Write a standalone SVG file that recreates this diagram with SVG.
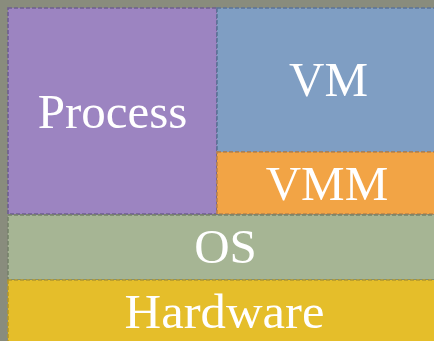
<svg xmlns="http://www.w3.org/2000/svg" width="434" height="341" viewBox="0 0 434 341">
<style>
.box{stroke-width:1.6;stroke-dasharray:4 2}
.t{font-family:"Liberation Serif","DejaVu Serif",serif;font-size:49px;fill:#ffffff;text-anchor:middle}
</style>
<rect x="0" y="0" width="434" height="341" fill="#898c7d"/>
<g id="process"><rect class="box" x="8" y="8" width="209" height="206" fill="#9c84c1" stroke="#6d5e8f"/><text class="t" x="112.5" y="128">Process</text></g>
<g id="vm"><rect class="box" x="217" y="8" width="224" height="144" fill="#7f9ec3" stroke="#5b7398"/><text class="t" x="328.5" y="96">VM</text></g>
<g id="vmm"><rect class="box" x="217" y="152" width="224" height="62" fill="#f2a445" stroke="#b8824a"/><text class="t" x="327" y="200">VMM</text></g>
<g id="os"><rect class="box" x="8" y="215" width="433" height="65" fill="#a6b594" stroke="#76826a"/><text class="t" x="225.5" y="263">OS</text></g>
<g id="hardware"><rect class="box" x="8" y="280" width="433" height="70" fill="#e5be2a" stroke="#b1962e"/><text class="t" x="224.5" y="328" textLength="200" lengthAdjust="spacingAndGlyphs">Hardware</text></g>
<g id="connectors"></g>
</svg>
